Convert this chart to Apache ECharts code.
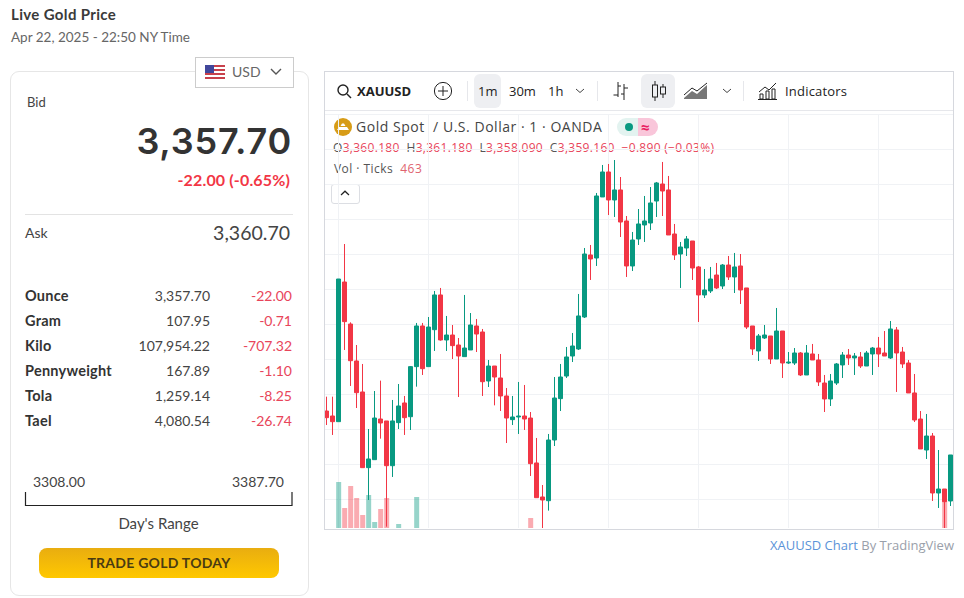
<!DOCTYPE html>
<html>
<head>
<meta charset="utf-8">
<title>Live Gold Price</title>
<script src="https://cdn.jsdelivr.net/npm/echarts@6/dist/echarts.min.js"></script>
<style>
    html, body { margin: 0; padding: 0; background: #fff; width: 964px; height: 598px; overflow: hidden; }
    body { font-family: Lato, "Open Sans", sans-serif; color: #333; position: relative; }
    .t { position: absolute; white-space: pre; line-height: 20px; }
    .r { text-align: right; }
    .card { position: absolute; left: 10px; top: 71px; width: 297px; height: 523px; border: 1px solid #e6e6e6; border-radius: 9px; }
    .select { position: absolute; left: 195px; top: 57px; width: 97px; height: 29px; border: 1px solid #ccc; background: #fff; }
    .tv { font-family: "Open Sans", "Noto Sans", sans-serif; }
    .pane { position: absolute; left: 324px; top: 71px; width: 628px; height: 457px; border: 1px solid #d6d8de; }
    .hl { position: absolute; background: #eeeff2; border-radius: 6px; }
    .sep { position: absolute; width: 1px; height: 20px; top: 81px; background: #e6e7eb; }
    #chart { position: absolute; left: 325px; top: 111px; width: 628px; height: 417px; }
    svg { position: absolute; overflow: visible; }
    .red { color: #e8455a; }
</style>
</head>
<body>
    <div class="t" style="left:11px;top:4px;font-size:15px;letter-spacing:0.35px;font-weight:700;color:#3a3a3a">Live Gold Price</div>
    <div class="t" style="left:11px;top:27px;font-size:13.5px;color:#666">Apr 22, 2025 - 22:50 NY Time</div>

    <div class="card"></div>
    <div class="select"></div>
    <svg style="left:205px;top:65px" width="20" height="14" viewBox="0 0 20 14">
        <rect width="20" height="14" fill="#fff"/>
        <rect y="0" width="20" height="2" fill="#c8414b"/><rect y="4" width="20" height="2" fill="#c8414b"/>
        <rect y="8" width="20" height="2" fill="#c8414b"/><rect y="12" width="20" height="2" fill="#c8414b"/>
        <rect width="9" height="8" fill="#41479b"/>
    </svg>
    <div class="t" style="left:232px;top:62px;font-size:14px;color:#666">USD</div>
    <svg style="left:270px;top:68px" width="12" height="8"><path d="M1 1 L6 6 L11 1" fill="none" stroke="#555" stroke-width="1.4"/></svg>

    <div class="t" style="left:27px;top:92px;font-size:13px;color:#444">Bid</div>
    <div class="t r" style="right:672px;top:121px;font-family:Inter,Lato,sans-serif;font-size:36px;letter-spacing:0.8px;line-height:40px;font-weight:600;color:#333">3,357.70</div>
    <div class="t r" style="right:674px;top:170px;font-size:16px;letter-spacing:0.15px;font-weight:700;color:#f23645">-22.00 (-0.65%)</div>
    <div style="position:absolute;left:25px;top:214px;width:268px;height:1px;background:#e3e3e3"></div>
    <div class="t" style="left:25px;top:223px;font-size:14px;color:#444">Ask</div>
    <div class="t r" style="right:674px;top:223px;font-size:19.5px;color:#444">3,360.70</div>

    <div id="rows"></div>

    <div class="t" style="left:33px;top:472px;font-size:14px;color:#444">3308.00</div>
    <div class="t r" style="right:680px;top:472px;font-size:14px;color:#444">3387.70</div>
    <svg style="left:25px;top:492px" width="268" height="14"><path d="M0.5 0 V13.5 H267 V0" fill="none" stroke="#222" stroke-width="1.2"/></svg>
    <div class="t" style="left:25px;width:267px;text-align:center;top:513px;font-size:15px;color:#444">Day's Range</div>
    <div class="t" style="left:39px;top:548px;width:240px;height:30px;line-height:30px;text-align:center;border-radius:8px;background:linear-gradient(#e9ad10,#ffc800);font-size:14px;letter-spacing:0.25px;font-weight:700;color:#4a3b12">TRADE GOLD TODAY</div>

    <div class="pane"></div>
    <div style="position:absolute;left:325px;top:110px;width:628px;height:1px;background:#e6e7eb"></div>

    <div class="tv">
        <svg style="left:337px;top:84px" width="15" height="15"><circle cx="6" cy="6" r="5" fill="none" stroke="#222" stroke-width="1.4"/><path d="M10 10 L14 14" stroke="#222" stroke-width="1.4"/></svg>
        <div class="t" style="left:357px;top:81px;font-size:13px;font-weight:700;color:#222">XAUUSD</div>
        <svg style="left:434px;top:82px" width="18" height="18"><circle cx="9" cy="9" r="8.6" fill="none" stroke="#222"/><path d="M9 4 V14 M4 9 H14" stroke="#222"/></svg>
        <div class="sep" style="left:467px"></div>
        <div class="hl" style="left:474px;top:74px;width:27px;height:34px"></div>
        <div class="t" style="left:478px;top:81px;font-size:13px;color:#222">1m</div>
        <div class="t" style="left:509px;top:81px;font-size:13px;color:#222">30m</div>
        <div class="t" style="left:548px;top:81px;font-size:13px;color:#222">1h</div>
        <svg style="left:575px;top:88px" width="10" height="6"><path d="M1 1 L5 4.5 L9 1" fill="none" stroke="#444"/></svg>
        <div class="sep" style="left:597px"></div>
        <svg style="left:613px;top:82px" width="15" height="18"><path d="M5 0 V15 M0.5 13 H5 M5 4 H8 M11 2 V18 M11 6 H15 M8 12 H11" fill="none" stroke="#222"/></svg>
        <div class="hl" style="left:641px;top:74px;width:34px;height:34px"></div>
        <svg style="left:651px;top:81px" width="16" height="20"><path d="M4 0 V20 M12 3 V17" stroke="#222"/><rect x="1.5" y="4" width="5" height="12" fill="#eeeff2" stroke="#222"/><rect x="9.5" y="6" width="5" height="7" fill="#eeeff2" stroke="#222"/></svg>
        <svg style="left:684px;top:83px" width="24" height="16"><path d="M0 15 L8 8 L13 11 L23 2 V16 H0 Z" fill="#777"/><path d="M0 12 L8 5 L13 8 L23 0" fill="none" stroke="#222"/></svg>
        <svg style="left:722px;top:88px" width="10" height="6"><path d="M1 1 L5 4.5 L9 1" fill="none" stroke="#444"/></svg>
        <div class="sep" style="left:743px"></div>
        <svg style="left:758px;top:82px" width="19" height="18"><path d="M1 10 L7 5 L11 8 L18 1" fill="none" stroke="#222"/><path d="M2 17 V12 H5 V17 Z M8 17 V9 H11 V17 Z M14 17 V7 H17 V17 Z M0 17.5 H19" fill="none" stroke="#222"/></svg>
        <div class="t" style="left:785px;top:81px;font-size:13px;letter-spacing:0.2px;color:#222">Indicators</div>

        <svg style="left:334px;top:118px" width="18" height="18"><circle cx="9" cy="9" r="9" fill="#d79c17"/><path d="M3 12 H15 L13 9 H5 Z M6.5 8 L8 5.5 H10 L11.5 8 Z" fill="#fff"/></svg>
        <div class="t" style="left:356px;top:117px;font-size:14px;letter-spacing:0.53px;color:#444">Gold Spot  / U.S. Dollar · 1 · OANDA</div>
        <div style="position:absolute;left:617px;top:118px;width:21px;height:18px;background:#e3f3f0;border-radius:9px 0 0 9px"></div>
        <div style="position:absolute;left:638px;top:118px;width:20px;height:18px;background:#f9c6da;border-radius:0 9px 9px 0"></div>
        <div style="position:absolute;left:625px;top:123px;width:8px;height:8px;background:#089981;border-radius:50%"></div>
        <div class="t" style="left:641px;top:117px;font-size:15px;font-weight:700;color:#e91e63">≈</div>

        <div class="t" style="left:333px;top:138px;font-size:12px;letter-spacing:0.3px;color:#555">O<span class="red">3,360.180</span>  H<span class="red">3,361.180</span>  L<span class="red">3,358.090</span>  C<span class="red">3,359.160</span>  <span class="red">−0.890 (−0.03%)</span></div>
        <div class="t" style="left:334px;top:159px;font-size:12px;letter-spacing:0.45px;color:#555">Vol · Ticks  <span style="color:#e0636f">463</span></div>
        <div style="position:absolute;left:331px;top:184px;width:27px;height:18px;border:1px solid #dcdee3;border-radius:3px;background:#fff"></div>
        <svg style="left:340px;top:190px" width="10" height="6"><path d="M1 5 L5 1.2 L9 5" fill="none" stroke="#222" stroke-width="1.2"/></svg>
    </div>

    <div id="chart"></div>
    <div class="t r tv" style="right:10px;top:535px;font-size:13px;color:#9aa0aa"><span style="color:#5b93d8">XAUUSD Chart</span> By TradingView</div>

    <script type="text/javascript">
        // left panel table
        var unitNames = ['Ounce', 'Gram', 'Kilo', 'Pennyweight', 'Tola', 'Tael'];
        var unitPrices = ['3,357.70', '107.95', '107,954.22', '167.89', '1,259.14', '4,080.54'];
        var unitChanges = ['-22.00', '-0.71', '-707.32', '-1.10', '-8.25', '-26.74'];

        // candles, one entry per minute
        var opens = [3367.64,3366.93,3366.12,3386.07,3380.07,3374.79,3370.36,3359.55,3360.69,3366.50,3366.22,3359.83,3365.98,3368.79,3366.83,3373.98,3379.79,3373.98,3379.26,3384.22,3377.79,3378.50,3377.07,3375.41,3376.36,3379.79,3378.93,3371.93,3374.07,3372.36,3369.79,3366.41,3366.79,3366.93,3366.64,3360.22,3355.36,3354.83,3363.50,3369.41,3372.64,3375.50,3376.50,3381.07,3389.93,3389.50,3398.22,3401.79,3397.79,3399.22,3394.79,3388.36,3392.22,3394.22,3394.50,3397.64,3400.07,3399.22,3392.93,3390.07,3390.93,3391.93,3388.22,3384.22,3384.79,3387.07,3385.50,3388.50,3386.79,3388.36,3385.22,3379.79,3376.22,3378.07,3378.36,3375.07,3379.07,3374.50,3374.50,3375.93,3372.79,3375.79,3374.93,3371.64,3369.36,3371.64,3374.22,3375.64,3375.22,3375.36,3374.07,3375.79,3376.64,3375.93,3375.22,3379.22,3376.07,3374.50,3370.22,3366.50,3362.07,3364.07,3355.93,3356.50,3354.79];
        var closes = [3366.69,3366.12,3386.50,3380.41,3374.83,3370.26,3359.55,3360.79,3366.64,3365.93,3359.83,3366.22,3368.36,3366.69,3373.98,3379.79,3373.69,3379.64,3384.22,3377.79,3378.50,3376.98,3375.50,3376.64,3379.93,3378.64,3371.83,3374.07,3372.50,3369.79,3366.64,3366.79,3366.93,3366.50,3360.12,3355.26,3354.93,3363.50,3369.50,3372.50,3375.36,3376.93,3381.22,3390.07,3389.36,3398.36,3401.79,3397.79,3399.22,3394.64,3388.36,3392.07,3394.36,3394.79,3397.36,3400.22,3399.07,3392.79,3389.93,3391.07,3392.22,3388.07,3384.22,3384.93,3386.50,3385.22,3388.50,3386.79,3388.22,3384.93,3379.64,3376.50,3378.36,3378.50,3375.07,3379.07,3374.50,3374.64,3375.93,3372.79,3375.93,3374.93,3371.79,3369.36,3371.93,3374.36,3375.64,3375.22,3375.50,3374.07,3375.93,3376.64,3375.79,3375.50,3379.36,3375.93,3374.36,3370.22,3366.36,3362.22,3364.07,3355.93,3356.50,3354.69,3361.36];
        var lows = [3365.64,3364.22,3366.12,3376.36,3371.22,3368.07,3359.55,3354.93,3360.69,3363.69,3351.12,3358.22,3365.07,3364.22,3364.93,3371.12,3372.79,3373.98,3376.22,3377.69,3376.22,3375.07,3369.64,3375.41,3376.36,3376.07,3369.79,3371.07,3368.45,3367.64,3363.07,3365.64,3364.36,3364.93,3358.36,3355.26,3350.88,3353.41,3362.64,3367.64,3372.36,3374.64,3376.36,3380.93,3386.36,3388.36,3398.22,3395.64,3395.36,3392.50,3386.79,3387.64,3391.36,3391.79,3393.50,3395.36,3395.50,3392.79,3389.22,3385.22,3389.79,3386.36,3380.36,3383.79,3384.50,3385.07,3385.07,3386.36,3384.50,3382.93,3379.36,3375.64,3374.79,3377.93,3374.36,3375.07,3372.36,3374.36,3374.22,3372.64,3372.79,3374.93,3371.22,3367.50,3368.36,3371.36,3372.36,3374.22,3372.79,3373.79,3374.07,3372.79,3373.93,3375.50,3375.07,3370.36,3373.79,3370.22,3366.07,3362.22,3360.79,3354.79,3353.79,3350.88,3354.07];
        var highs = [3369.69,3369.69,3386.50,3391.50,3380.31,3377.07,3374.36,3365.07,3370.50,3371.98,3366.22,3369.22,3371.50,3369.79,3374.07,3380.22,3380.22,3381.07,3384.79,3385.22,3381.22,3379.93,3378.07,3384.22,3381.64,3380.79,3379.36,3374.93,3374.07,3375.79,3370.93,3369.79,3371.79,3371.36,3367.50,3363.79,3357.07,3364.36,3372.50,3374.36,3376.79,3378.79,3384.36,3390.93,3391.36,3398.79,3402.79,3402.93,3403.50,3401.07,3395.50,3393.22,3396.50,3398.36,3399.64,3400.36,3403.22,3401.22,3394.36,3391.79,3392.64,3391.93,3388.36,3387.93,3388.22,3388.79,3388.64,3389.79,3390.22,3390.07,3385.22,3379.79,3378.64,3379.93,3378.36,3382.36,3379.07,3376.07,3376.64,3376.07,3377.07,3377.22,3375.79,3372.79,3372.93,3374.50,3376.07,3376.50,3375.93,3376.07,3376.22,3376.79,3378.22,3379.07,3380.50,3379.64,3376.79,3374.93,3372.93,3367.64,3367.22,3364.50,3362.07,3356.50,3361.36];
        // only these bars reach into view, the rest of the volume pane is empty
        var volumes = [null,null,460,200,420,300,130,330,60,190,300,null,40,null,null,310,null,null,null,null,null,null,null,null,null,null,null,null,null,null,null,null,null,null,100,null,null,null,null,null,null,null,null,null,null,null,null,null,null,null,null,null,null,null,null,null,null,null,null,null,null,null,null,null,null,null,null,null,null,null,null,null,null,null,null,null,null,null,null,null,null,null,null,null,null,null,null,null,null,null,null,null,null,null,null,null,null,null,null,null,null,null,null,270,null];

        var priceMin = 3350, priceMax = 3410, priceStep = 5;
        var upColor = '#089981', downColor = '#f23645';
        var gridColor = '#f0f2f5';

        document.getElementById('rows').innerHTML = unitNames.map(function (name, i) {
            var top = 286 + i * 25;
            return '<div class="t" style="left:25px;top:' + top + 'px;font-size:14.5px;letter-spacing:0.25px;font-weight:700;color:#333">' + name + '</div>' +
                '<div class="t r" style="right:754px;top:' + top + 'px;font-size:14px;color:#444">' + unitPrices[i] + '</div>' +
                '<div class="t r red" style="right:672px;top:' + top + 'px;font-size:14px">' + unitChanges[i] + '</div>';
        }).join('');

        var categories = opens.map(function (v, i) { return i; });
        var candles = opens.map(function (o, i) { return [o, closes[i], lows[i], highs[i]]; });
        var volumeData = volumes.map(function (v, i) {
            return {
                value: v,
                itemStyle: { color: closes[i] >= opens[i] ? 'rgba(8,153,129,0.42)' : 'rgba(242,54,69,0.42)' }
            };
        });

        var myChart = echarts.init(document.getElementById('chart'));
        myChart.setOption({
            animation: false,
            // the plot runs a little past the frame so first and last candle get cut like in the widget
            grid: [
                { left: -1.33, width: 630, top: 3.5, height: 420, outerBoundsMode: 'none' },
                { left: -1.33, width: 630, height: 100, bottom: 0, outerBoundsMode: 'none' }
            ],
            xAxis: [
                {
                    type: 'category', data: categories, gridIndex: 0,
                    axisLine: { show: false }, axisTick: { show: false }, axisLabel: { show: false },
                    splitLine: {
                        show: true,
                        alignWithLabel: true,
                        interval: function (i) { return (i - 2) % 15 === 0; },
                        lineStyle: { color: gridColor }
                    }
                },
                {
                    type: 'category', data: categories, gridIndex: 1,
                    axisLine: { show: false }, axisTick: { show: false }, axisLabel: { show: false }
                }
            ],
            yAxis: [
                {
                    type: 'value', gridIndex: 0, min: priceMin, max: priceMax, interval: priceStep,
                    axisLine: { show: false }, axisTick: { show: false }, axisLabel: { show: false },
                    splitLine: { lineStyle: { color: gridColor } }
                },
                {
                    type: 'value', gridIndex: 1, min: 0, max: 1000,
                    axisLine: { show: false }, axisTick: { show: false }, axisLabel: { show: false },
                    splitLine: { show: false }
                }
            ],
            series: [
                {
                    name: 'Vol', type: 'bar', xAxisIndex: 1, yAxisIndex: 1, barWidth: 5, z: 1,
                    data: volumeData
                },
                {
                    name: 'XAUUSD', type: 'candlestick', xAxisIndex: 0, yAxisIndex: 0, barWidth: 5, z: 2,
                    itemStyle: { color: upColor, color0: downColor, borderColor: upColor, borderColor0: downColor, borderWidth: 1 },
                    data: candles
                }
            ]
        });
    </script>
</body>
</html>
